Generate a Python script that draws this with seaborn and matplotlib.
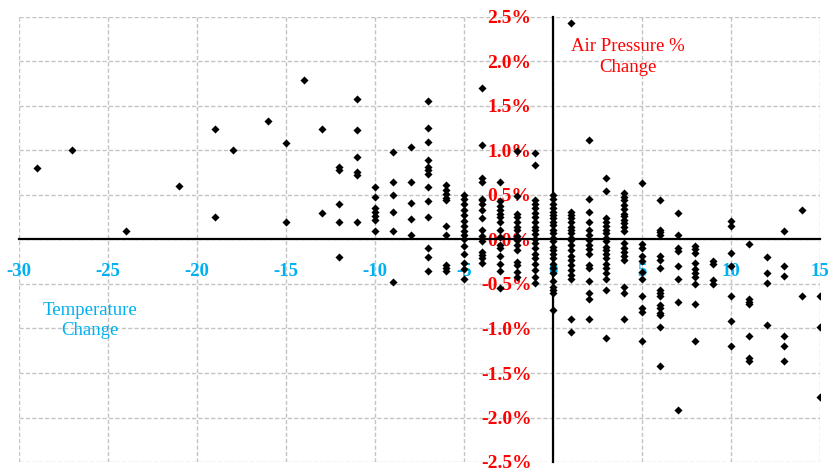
import matplotlib
matplotlib.use("Agg")
import matplotlib.pyplot as plt
import seaborn as sns
import pandas as pd
from matplotlib.ticker import FuncFormatter

sns.set_theme(style="white")
plt.rcParams["font.family"] = ["Liberation Serif", "DejaVu Serif"]
plt.rcParams["axes.unicode_minus"] = False

# Daily temperature change (degrees) and matching air pressure change (%)
temperature_change = (
    [-29, -27, -24, -21, -19, -19, -18, -16, -15, -15, -14, -13, -13]
    + [-12] * 5 + [-11] * 6 + [-10] * 7 + [-9] * 6 + [-8] * 5 + [-7] * 13
    + [-6] * 10 + [-5] * 15 + [-4] * 16 + [-3] * 15 + [-2] * 15 + [-1] * 20
    + [0] * 25 + [1] * 20 + [2] * 16 + [3] * 19 + [4] * 19 + [5] * 11
    + [6] * 16 + [7] * 8 + [8] * 10 + [9] * 4 + [10] * 7 + [11] * 7
    + [12] * 4 + [13] * 6 + [14] * 2 + [15] * 3
)
pressure_change_pct = [
    0.80, 1.00, 0.10, 0.60, 1.24, 0.25, 1.00, 1.33, 1.08, 0.20, 1.79, 1.24, 0.30,
    0.82, 0.78, 0.40, 0.20, -0.20,
    1.58, 1.23, 0.93, 0.76, 0.73, 0.20,
    0.59, 0.48, 0.35, 0.31, 0.26, 0.22, 0.10,
    0.98, 0.65, 0.50, 0.31, 0.10, -0.48,
    1.04, 0.65, 0.41, 0.23, 0.05,
    1.56, 1.25, 1.10, 0.89, 0.82, 0.78, 0.74, 0.59, 0.43, 0.25, -0.10, -0.20, -0.35,
    0.61, 0.56, 0.51, 0.47, 0.44, 0.15, 0.05, -0.29, -0.32, -0.35,
    0.50, 0.45, 0.40, 0.33, 0.27, 0.21, 0.15, 0.10, 0.05, 0.01, -0.07, -0.16, -0.26, -0.33, -0.44,
    1.70, 1.06, 0.69, 0.65, 0.46, 0.44, 0.40, 0.33, 0.24, 0.11, 0.04, -0.02, -0.14, -0.17, -0.21, -0.26,
    0.65, 0.43, 0.38, 0.33, 0.29, 0.25, 0.20, 0.11, 0.03, -0.06, -0.10, -0.19, -0.27, -0.35, -0.55,
    0.99, 0.49, 0.29, 0.25, 0.20, 0.14, 0.11, 0.04, -0.01, -0.06, -0.12, -0.25, -0.29, -0.36, -0.42,
    0.97, 0.84, 0.44, 0.40, 0.35, 0.30, 0.25, 0.20, 0.14, 0.11, 0.06, 0.01, -0.04, -0.10, -0.16,
    -0.21, -0.27, -0.34, -0.42, -0.49,
    0.50, 0.46, 0.40, 0.35, 0.31, 0.28, 0.24, 0.20, 0.16, 0.11, 0.07, 0.02, -0.02, -0.08, -0.12,
    -0.16, -0.21, -0.27, -0.32, -0.38, -0.47, -0.53, -0.57, -0.60, -0.79,
    2.43, 0.31, 0.28, 0.24, 0.20, 0.14, 0.11, 0.07, 0.02, -0.01, -0.06, -0.12, -0.19, -0.23, -0.29,
    -0.34, -0.40, -0.44, -0.89, -1.04,
    1.12, 0.45, 0.31, 0.20, 0.11, 0.05, -0.01, -0.06, -0.11, -0.16, -0.29, -0.32, -0.47, -0.60, -0.67, -0.89,
    0.69, 0.54, 0.24, 0.20, 0.15, 0.11, 0.07, 0.02, -0.02, -0.08, -0.12, -0.16, -0.21, -0.27, -0.32,
    -0.38, -0.44, -0.57, -1.11,
    0.52, 0.48, 0.44, 0.39, 0.34, 0.29, 0.26, 0.22, 0.18, 0.14, 0.09, -0.04, -0.09, -0.14, -0.19,
    -0.23, -0.53, -0.60, -0.89,
    0.64, -0.05, -0.10, -0.19, -0.24, -0.36, -0.44, -0.63, -0.77, -0.82, -1.14,
    0.44, 0.11, 0.08, 0.05, -0.19, -0.23, -0.32, -0.57, -0.60, -0.64, -0.74, -0.77, -0.83, -0.85, -0.98, -1.42,
    0.30, 0.05, -0.09, -0.13, -0.30, -0.44, -0.70, -1.92,
    -0.07, -0.11, -0.15, -0.26, -0.33, -0.38, -0.42, -0.50, -0.72, -1.14,
    -0.24, -0.28, -0.45, -0.50,
    0.21, 0.15, -0.15, -0.30, -0.63, -0.92, -1.20,
    -0.05, -0.67, -0.70, -0.73, -1.08, -1.33, -1.36,
    -0.20, -0.38, -0.49, -0.96,
    0.10, -0.30, -0.41, -1.08, -1.20, -1.37,
    0.33, -0.63,
    -0.63, -0.98, -1.77,
]

x_ticks = [-30, -25, -20, -15, -10, -5, 0, 5, 10, 15]
y_ticks = [-2.5, -2.0, -1.5, -1.0, -0.5, 0.0, 0.5, 1.0, 1.5, 2.0, 2.5]

df = pd.DataFrame({"temp": temperature_change, "pressure": pressure_change_pct})

CYAN = "#00B0F0"
RED = "#FF0000"

fig = plt.figure(figsize=(8.3, 4.69), dpi=100)
ax = fig.add_axes([19 / 830, 1 - 462 / 469, 801 / 830, 445 / 469])

sns.scatterplot(data=df, x="temp", y="pressure", marker="D", s=17,
                color="black", linewidth=0, legend=False, ax=ax, zorder=3)

ax.set_xlim(-30, 15)
ax.set_ylim(-2.5, 2.5)
ax.set_xticks(x_ticks)
ax.set_yticks(y_ticks)
ax.xaxis.set_major_formatter(FuncFormatter(lambda v, p: f"{v:.0f}"))
ax.yaxis.set_major_formatter(FuncFormatter(lambda v, p: f"{v:.1f}%"))
ax.set_xlabel("")
ax.set_ylabel("")

# dashed light-grey grid, including the frame of the plot area
ax.grid(True, color="#c4c4c4", linestyle=(0, (3, 1.6)), linewidth=1.0)
for side in ("top", "right"):
    ax.spines[side].set_visible(False)

# axes crossing at the origin
for side in ("left", "bottom"):
    ax.spines[side].set_position(("data", 0))
    ax.spines[side].set_color("black")
    ax.spines[side].set_linewidth(1.6)
    ax.spines[side].set_zorder(2.6)

ax.tick_params(axis="x", direction="out", length=5, width=1.5, color="black",
               pad=12, labelsize=13.5, labelcolor=CYAN)
ax.tick_params(axis="y", direction="out", length=6, width=1.5, color="black",
               pad=9.5, labelsize=14, labelcolor=RED)
for lab in ax.get_xticklabels() + ax.get_yticklabels():
    lab.set_fontweight("bold")

ax.text(4.2, 2.05, "Air Pressure %\nChange", color=RED, fontsize=13.5,
        ha="center", va="center", linespacing=1.25)
ax.text(-26.0, -0.91, "Temperature\nChange", color=CYAN, fontsize=13.5,
        ha="center", va="center", linespacing=1.25)

fig.savefig("out.png", dpi=100)
